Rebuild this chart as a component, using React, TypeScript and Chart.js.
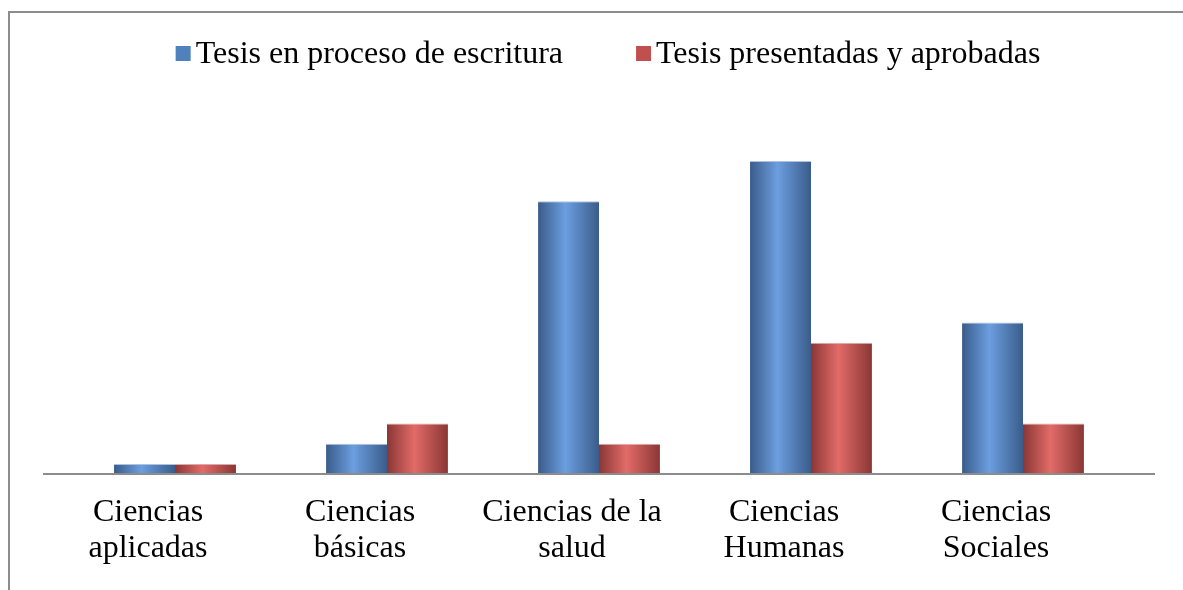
import React, { useEffect, useRef } from "react";
import { Chart, registerables } from "chart.js";

Chart.register(...registerables);

const categories: string[][] = [
  ["Ciencias", "aplicadas"],
  ["Ciencias", "básicas"],
  ["Ciencias de la", "salud"],
  ["Ciencias", "Humanas"],
  ["Ciencias", "Sociales"],
];
const seriesNames = ["Tesis en proceso de escritura", "Tesis presentadas y aprobadas"];
const enEscritura = [1, 3, 27, 31, 15];
const aprobadas = [1, 5, 3, 13, 5];

const legendColors = ["#4f81bd", "#c0504d"];
const CAT_PCT = 0.575;
const FONT = "Liberation Serif, 'Times New Roman', serif";
const FONT_SIZE = 32;

const makeGrad = (edge: string, light: string, fallback: string) => (ctx: any) => {
  const chart = ctx.chart;
  const x = chart.scales && chart.scales.x;
  if (!x || ctx.type !== "data" || x.right == null) return fallback;
  const n = categories.length;
  const catW = (x.right - x.left) / n;
  const barW = (catW * CAT_PCT) / 2;
  const center = x.getPixelForValue(ctx.dataIndex);
  const left = center - barW + ctx.datasetIndex * barW;
  if (!isFinite(left)) return fallback;
  const g = chart.ctx.createLinearGradient(left, 0, left + barW, 0);
  g.addColorStop(0, edge);
  g.addColorStop(0.45, light);
  g.addColorStop(1, edge);
  return g;
};

const framePlugin = {
  id: "frame",
  beforeDraw(chart: any) {
    const c = chart.ctx;
    c.save();
    c.fillStyle = "#ffffff";
    c.fillRect(0, 0, chart.width, chart.height);
    c.strokeStyle = "#8c8c8c";
    c.lineWidth = 2;
    c.beginPath();
    c.moveTo(9, chart.height);
    c.lineTo(9, 12);
    c.lineTo(chart.width, 12);
    c.stroke();
    c.restore();
  },
};

const axisLinePlugin = {
  id: "axisLine",
  afterDatasetsDraw(chart: any) {
    const c = chart.ctx;
    const y = chart.scales.y.getPixelForValue(0);
    c.save();
    c.strokeStyle = "#8c8c8c";
    c.lineWidth = 2;
    c.beginPath();
    c.moveTo(43, y);
    c.lineTo(1155, y);
    c.stroke();
    c.restore();
  },
};

const legendPlugin = {
  id: "customLegend",
  afterDraw(chart: any) {
    const c = chart.ctx;
    c.save();
    c.font = `${FONT_SIZE}px ${FONT}`;
    c.textBaseline = "alphabetic";
    c.textAlign = "left";
    const box = 15;
    const gap = 5;
    const itemGap = 73;
    const widths = chart.data.datasets.map((d: any) => box + gap + c.measureText(d.label).width);
    const total = widths.reduce((a: number, b: number) => a + b, 0) + itemGap * (widths.length - 1);
    let x = 608 - total / 2;
    chart.data.datasets.forEach((d: any, i: number) => {
      c.fillStyle = legendColors[i];
      c.fillRect(x, 46, box, box);
      c.fillStyle = "#000000";
      c.fillText(d.label, x + box + gap, 63);
      x += widths[i] + itemGap;
    });
    c.restore();
  },
};

export default function App() {
  const ref = useRef<HTMLCanvasElement | null>(null);
  useEffect(() => {
    if (!ref.current) return;
    const chart = new Chart(ref.current, {
      type: "bar",
      data: {
        labels: categories,
        datasets: [
          {
            label: seriesNames[0],
            data: enEscritura,
            backgroundColor: makeGrad("#3a5c8a", "#6c9ee0", legendColors[0]),
            borderColor: "#aec3df",
            borderWidth: { top: 1, left: 0, right: 0, bottom: 0 },
            borderSkipped: false,
          },
          {
            label: seriesNames[1],
            data: aprobadas,
            backgroundColor: makeGrad("#8a3735", "#e26b68", legendColors[1]),
            borderColor: "#dcaaa9",
            borderWidth: { top: 1, left: 0, right: 0, bottom: 0 },
            borderSkipped: false,
          },
        ],
      },
      options: {
        responsive: false,
        animation: false,
        devicePixelRatio: 1,
        layout: { padding: { left: 69, right: 54, top: 70, bottom: 0 } },
        datasets: { bar: { categoryPercentage: CAT_PCT, barPercentage: 1 } },
        plugins: {
          legend: { display: false },
          title: { display: false },
          tooltip: { enabled: false },
        },
        scales: {
          x: {
            grid: { display: false, drawTicks: false },
            border: { display: false },
            afterFit: (scale: any) => {
              scale.height = 116;
            },
            ticks: {
              autoSkip: false,
              maxRotation: 0,
              minRotation: 0,
              padding: 21,
              labelOffset: -27,
              color: "#000000",
              font: { family: FONT, size: FONT_SIZE, lineHeight: 36 / FONT_SIZE },
            },
          },
          y: {
            display: false,
            min: 0,
            max: 40,
          },
        },
      },
      plugins: [framePlugin, axisLinePlugin, legendPlugin],
    });
    return () => chart.destroy();
  }, []);
  return (
    <div style={{ position: "absolute", left: 0, top: 0, width: 1183, height: 590 }}>
      <canvas ref={ref} width={1183} height={590} style={{ display: "block" }} />
    </div>
  );
}
